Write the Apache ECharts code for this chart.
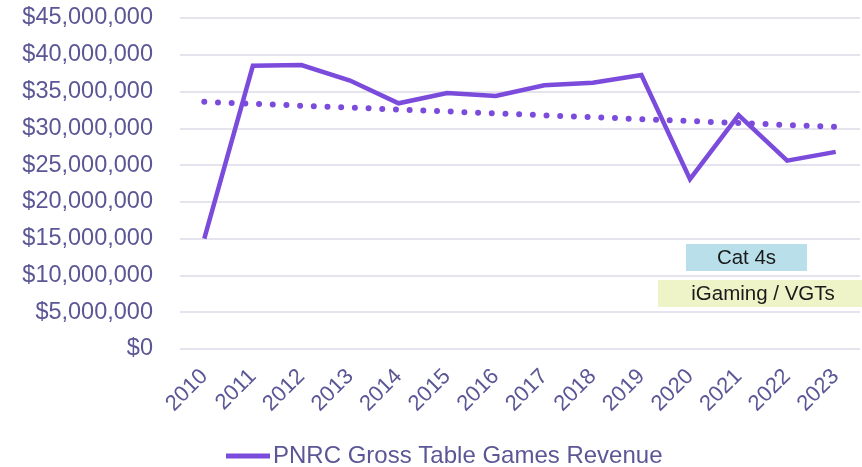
<!DOCTYPE html>
<html>
<head>
<meta charset="utf-8">
<script src="https://cdn.jsdelivr.net/npm/echarts@6/dist/echarts.min.js"></script>
<style>
  html, body { margin: 0; padding: 0; background: #fff; }
  #chart { width: 862px; height: 467px; }
</style>
</head>
<body>
<div id="chart"></div>
<script>
const years = ['2010', '2011', '2012', '2013', '2014', '2015', '2016', '2017', '2018', '2019', '2020', '2021', '2022', '2023'];
const revenue = [15.0, 38.5, 38.6, 36.5, 33.4, 34.8, 34.4, 35.85, 36.2, 37.25, 23.1, 31.8, 25.6, 26.8].map((v) => v * 1e6);
// trendline endpoints only, straight segment between them
const trend = [33.6, null, null, null, null, null, null, null, null, null, null, null, null, 30.2].map((v) => (v == null ? null : v * 1e6));

const textColor = '#5b5796';
const lineColor = '#7b4bdc';

const chart = echarts.init(document.getElementById('chart'));

const money = (v) => '$' + v.toLocaleString('en-US');

chart.setOption({
  animation: false,
  textStyle: { fontFamily: 'Liberation Sans, Arial, sans-serif' },
  grid: { left: 180, right: 2, top: 18, bottom: 118 },
  xAxis: {
    type: 'category',
    data: years,
    boundaryGap: true,
    axisLine: { show: false },
    axisTick: { show: false },
    axisLabel: { rotate: 45, color: textColor, fontSize: 22, margin: 24, interval: 0 },
  },
  yAxis: {
    type: 'value',
    min: 0,
    max: 45e6,
    interval: 5e6,
    axisLabel: { color: textColor, fontSize: 23.5, margin: 27, formatter: money },
    splitLine: { lineStyle: { color: '#dcdbe9', width: 1.5 } },
  },
  legend: {
    top: 439,
    left: 221,
    itemWidth: 44,
    itemHeight: 5,
    itemGap: 0,
    textStyle: { color: textColor, fontSize: 24, padding: [0, 0, 0, -2] },
    data: [{ name: 'PNRC Gross Table Games Revenue', icon: 'rect' }],
  },
  graphic: [
    {
      type: 'group',
      left: 686,
      top: 244,
      children: [
        { type: 'rect', shape: { x: 0, y: 0, width: 121, height: 27 }, style: { fill: '#b9e0ea' } },
        { type: 'text', style: { x: 60.5, y: 14, text: 'Cat 4s', align: 'center', verticalAlign: 'middle', fill: '#1a1a1a', font: '20.5px Liberation Sans, Arial, sans-serif' } },
      ],
    },
    {
      type: 'group',
      left: 658,
      top: 280,
      children: [
        { type: 'rect', shape: { x: 0, y: 0, width: 204, height: 27 }, style: { fill: '#eef3c8' } },
        { type: 'text', style: { x: 105, y: 14, text: 'iGaming / VGTs', align: 'center', verticalAlign: 'middle', fill: '#1a1a1a', font: '20.5px Liberation Sans, Arial, sans-serif' } },
      ],
    },
  ],
  series: [
    {
      name: 'PNRC Gross Table Games Revenue',
      type: 'line',
      data: revenue,
      symbol: 'none',
      z: 3,
      itemStyle: { color: lineColor },
      lineStyle: { color: lineColor, width: 4.5, join: 'miter' },
    },
    {
      name: 'Trend',
      type: 'line',
      data: trend,
      connectNulls: true,
      symbol: 'none',
      z: 2,
      lineStyle: { color: lineColor, width: 6, type: [0, 13.7], cap: 'round' },
    },
  ],
});
</script>
</body>
</html>
